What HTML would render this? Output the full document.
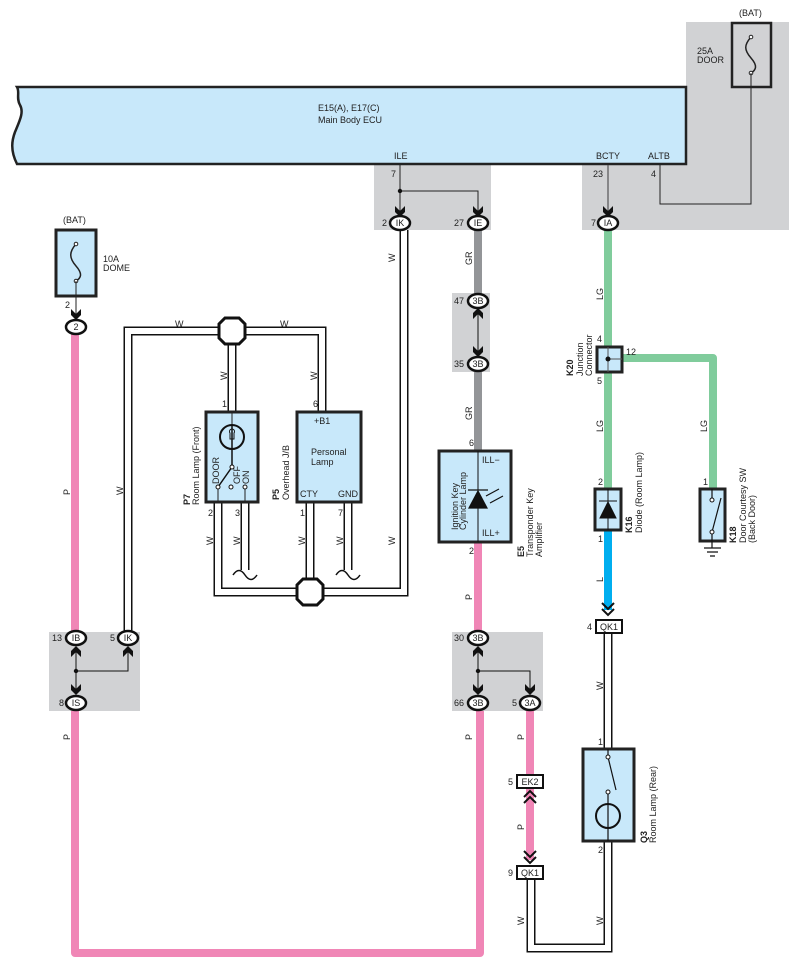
<!DOCTYPE html>
<html><head><meta charset="utf-8"><style>
html,body{margin:0;padding:0;background:#fff;}
svg{display:block;}
text{font-family:"Liberation Sans",sans-serif;font-size:9px;fill:#222;}
</style></head><body>
<svg width="799" height="971" viewBox="0 0 799 971" xmlns="http://www.w3.org/2000/svg">
<defs>
<g id="fa"><path d="M-5,-9 L0,-4 L5,-9 L5,-3 L0,2 L-5,-3Z" fill="#111"/></g>
<g id="ma"><path d="M-5,9 L0,4 L5,9 L5,3 L0,-2 L-5,3Z" fill="#111"/></g>
<g id="oct"><polygon points="-7,-13 7,-13 13,-7 13,7 7,13 -7,13 -13,7 -13,-7" fill="#fff" stroke="#111" stroke-width="3"/></g>
</defs>
<g fill="#d1d2d4">
<rect x="686" y="22" width="103" height="208"/>
<rect x="582" y="165" width="207" height="65"/>
<rect x="374" y="165" width="117" height="65"/>
<rect x="452" y="293" width="38" height="79"/>
<rect x="49" y="632" width="91" height="79"/>
<rect x="452" y="632" width="91" height="79"/>
</g>
<path d="M17,87 L686,87 L686,164 L17,164 C10,150 12,140 15,132 C20,120 24,112 20,105 C16,98 20,92 17,87Z" fill="#c8e8fa" stroke="#222" stroke-width="2.5"/>
<text x="318" y="111" font-size="9.5">E15(A), E17(C)</text>
<text x="318" y="123" font-size="9.5">Main Body ECU</text>
<text x="394" y="159">ILE</text><text x="596" y="159">BCTY</text><text x="648" y="159">ALTB</text>
<rect x="732" y="23" width="39" height="64" fill="none" stroke="#222" stroke-width="2.5"/>
<text x="739" y="16">(BAT)</text><text x="697" y="54">25A</text><text x="697" y="63">DOOR</text>
<path d="M751,37 C744,45 744,50 751,58 C758,66 756,70 751,73" fill="none" stroke="#222" stroke-width="1.5"/>
<circle cx="751" cy="37" r="1.8" fill="#fff" stroke="#222"/><circle cx="751" cy="73" r="1.8" fill="#fff" stroke="#222"/>
<path d="M751,73 V204 H660 V165" fill="none" stroke="#222" stroke-width="1"/>
<text x="651" y="177">4</text>
<path d="M400,165 V215 M400,191 H478 V215" fill="none" stroke="#222" stroke-width="1"/>
<circle cx="400" cy="191" r="2.2" fill="#111"/>
<text x="391" y="177">7</text>
<path d="M608,165 V215" stroke="#555" stroke-width="1.2"/>
<text x="593" y="177">23</text>
<g fill="none" stroke-linejoin="round">
<path d="M478,230 V294 M478,372 V450" stroke="#939598" stroke-width="8"/>
<path d="M75,334 V632 M75,711 V953 H480 V711" stroke="#f086b6" stroke-width="8"/>
<path d="M478,542 V632" stroke="#f086b6" stroke-width="8"/>
<path d="M530,711 V860" stroke="#f086b6" stroke-width="8"/>
<path d="M608,230 V489" stroke="#80cc9c" stroke-width="8"/>
<path d="M622,358 H713 V489" stroke="#80cc9c" stroke-width="8"/>
<path d="M608,530 V610" stroke="#00aeef" stroke-width="8"/>
</g>
<g fill="none" stroke-linejoin="miter">
<g stroke="#111" stroke-width="9">
<path d="M128,632 V331 H322 V411"/><path d="M232,331 V411"/>
<path d="M218,502 V592 H404 V230"/><path d="M310,502 V592"/>
<path d="M245,502 V570"/><path d="M348,502 V570"/>
<path d="M608,633 V749"/><path d="M608,841 V948 H531 V880"/>
</g>
<g stroke="#fff" stroke-width="6">
<path d="M128,632 V331 H322 V411"/><path d="M232,331 V411"/>
<path d="M218,502 V592 H404 V230"/><path d="M310,502 V592"/>
<path d="M245,502 V570"/><path d="M348,502 V570"/>
<path d="M608,633 V749"/><path d="M608,841 V948 H531 V880"/>
</g>
</g>
<path d="M233,575 c4,-6 8,-6 12,0 s8,6 12,0 M336,575 c4,-6 8,-6 12,0 s8,6 12,0" fill="none" stroke="#111" stroke-width="1.5"/>
<use href="#oct" x="232" y="331"/><use href="#oct" x="310" y="592"/>
<rect x="56" y="230" width="40" height="66" fill="#c8e8fa" stroke="#222" stroke-width="3"/>
<text x="63" y="223">(BAT)</text><text x="103" y="262">10A</text><text x="103" y="271">DOME</text>
<path d="M76,244 C69,252 69,258 76,266 C83,274 81,278 76,281" fill="none" stroke="#222" stroke-width="1.5"/>
<circle cx="76" cy="244" r="1.8" fill="#fff" stroke="#222"/><circle cx="76" cy="281" r="1.8" fill="#fff" stroke="#222"/>
<path d="M76,281 V318" stroke="#222"/><text x="65" y="308">2</text>
<use href="#fa" x="76" y="318"/>
<use href="#fa" x="400" y="215"/><use href="#fa" x="478" y="215"/><use href="#fa" x="608" y="215"/>
<use href="#ma" x="478" y="310"/><use href="#fa" x="478" y="355"/>
<use href="#ma" x="76" y="648"/><use href="#ma" x="128" y="648"/><use href="#fa" x="76" y="693"/>
<use href="#ma" x="478" y="648"/><use href="#fa" x="478" y="693"/><use href="#fa" x="530" y="693"/>
<path d="M76,648 V693 M76,671 H128 V648 M478,310 V355 M478,648 V693 M478,671 H530 V693" fill="none" stroke="#111" stroke-width="1"/>
<circle cx="76" cy="671" r="2.2" fill="#111"/><circle cx="478" cy="671" r="2.2" fill="#111"/>
<g fill="#fff" stroke="#111" stroke-width="2.5">
<ellipse cx="76" cy="327" rx="10" ry="7"/>
<ellipse cx="400" cy="223" rx="10" ry="7"/><ellipse cx="478" cy="223" rx="10" ry="7"/><ellipse cx="608" cy="223" rx="10" ry="7"/>
<ellipse cx="478" cy="301" rx="10" ry="7"/><ellipse cx="478" cy="364" rx="10" ry="7"/>
<ellipse cx="76" cy="638" rx="10" ry="7"/><ellipse cx="128" cy="638" rx="10" ry="7"/><ellipse cx="76" cy="703" rx="10" ry="7"/>
<ellipse cx="478" cy="638" rx="10" ry="7"/><ellipse cx="478" cy="703" rx="10" ry="7"/><ellipse cx="530" cy="703" rx="10" ry="7"/>
</g>
<g text-anchor="middle">
<text x="76" y="330">2</text><text x="400" y="226">IK</text><text x="478" y="226">IE</text><text x="608" y="226">IA</text>
<text x="478" y="304">3B</text><text x="478" y="367">3B</text>
<text x="76" y="641">IB</text><text x="128" y="641">IK</text><text x="76" y="706">IS</text>
<text x="478" y="641">3B</text><text x="478" y="706">3B</text><text x="530" y="706">3A</text>
</g>
<text x="382" y="226">2</text><text x="454" y="226">27</text><text x="591" y="226">7</text>
<text x="454" y="304">47</text><text x="454" y="367">35</text>
<text x="52" y="641">13</text><text x="110" y="641">5</text><text x="59" y="706">8</text>
<text x="454" y="641">30</text><text x="454" y="706">66</text><text x="512" y="706">5</text>
<rect x="206" y="412" width="52" height="90" fill="#c8e8fa" stroke="#222" stroke-width="3"/>
<path d="M232,412 V425 M218,487 V502 M245,487 V502" stroke="#222"/>
<circle cx="232" cy="437" r="12" fill="none" stroke="#111" stroke-width="2"/>
<path d="M232,425 V467 M218,487 L232,467" stroke="#111" stroke-width="1.5" fill="none"/>
<path d="M230,433 a2.5,2.5 0 1 1 4,0 v6 h-4z" fill="none" stroke="#111" stroke-width="1"/>
<circle cx="218" cy="487" r="2" fill="#fff" stroke="#111"/><circle cx="231" cy="487" r="2" fill="#fff" stroke="#111"/><circle cx="245" cy="487" r="2" fill="#fff" stroke="#111"/><circle cx="232" cy="467" r="2" fill="#fff" stroke="#111"/>
<text transform="translate(219,484) rotate(-90)">DOOR</text><text transform="translate(240,484) rotate(-90)">OFF</text><text transform="translate(249,484) rotate(-90)">ON</text>
<text x="222" y="407">1</text><text x="208" y="516">2</text><text x="235" y="516">3</text>
<text transform="translate(190,505) rotate(-90)" font-weight="bold">P7</text><text transform="translate(199,505) rotate(-90)">Room Lamp (Front)</text>
<rect x="297" y="412" width="64" height="90" fill="#c8e8fa" stroke="#222" stroke-width="3"/>
<text x="314" y="424">+B1</text><text x="311" y="455">Personal</text><text x="311" y="465">Lamp</text>
<text x="300" y="497">CTY</text><text x="338" y="497">GND</text>
<text x="313" y="407">6</text><text x="300" y="516">1</text><text x="338" y="516">7</text>
<text transform="translate(279,500) rotate(-90)" font-weight="bold">P5</text><text transform="translate(289,500) rotate(-90)">Overhead J/B</text>
<rect x="439" y="451" width="72" height="91" fill="#c8e8fa" stroke="#222" stroke-width="3"/>
<path d="M478,451 V542" stroke="#111"/>
<path d="M469,508 L487,508 L478,491Z M468,490 H488" fill="#111" stroke="#111" stroke-width="1.2"/>
<path d="M486,496 L499,489 M490,503 L503,496" stroke="#111" stroke-width="1.2"/>
<text x="482" y="463">ILL−</text><text x="482" y="536">ILL+</text>
<text transform="translate(458,530) rotate(-90)" fill="#333">Ignition Key</text><text transform="translate(466,530) rotate(-90)" fill="#333">Cylinder Lamp</text>
<text transform="translate(524,557) rotate(-90)" font-weight="bold">E5</text><text transform="translate(533,557) rotate(-90)">Transponder Key</text><text transform="translate(542,557) rotate(-90)">Amplifier</text>
<text x="469" y="446">6</text><text x="469" y="554">2</text>
<rect x="597" y="347" width="25" height="25" fill="#c8e8fa" stroke="#222" stroke-width="3"/>
<path d="M608,347 V372 M608,359 H622" stroke="#555"/><circle cx="608" cy="359" r="2.5" fill="#111"/>
<text x="597" y="342">4</text><text x="597" y="384">5</text><text x="626" y="355">12</text>
<text transform="translate(573,376) rotate(-90)" font-weight="bold">K20</text><text transform="translate(583,376) rotate(-90)">Junction</text><text transform="translate(592,376) rotate(-90)">Connector</text>
<rect x="595" y="489" width="26" height="41" fill="#c8e8fa" stroke="#222" stroke-width="3"/>
<path d="M608,489 V530" stroke="#111"/><path d="M600,518 H616 L608,502Z M599,501 H617" fill="#111" stroke="#111"/>
<text x="598" y="485">2</text><text x="598" y="542">1</text>
<text transform="translate(632,533) rotate(-90)" font-weight="bold">K16</text><text transform="translate(642,533) rotate(-90)">Diode (Room Lamp)</text>
<rect x="700" y="489" width="25" height="52" fill="#c8e8fa" stroke="#222" stroke-width="3"/>
<path d="M712,499 V489 M712,532 V548 M712,532 L721,498 M704,548 H721 M707,552 H718 M710,556 H715" fill="none" stroke="#111" stroke-width="1.2"/>
<circle cx="712" cy="500" r="2" fill="#fff" stroke="#111"/><circle cx="712" cy="532" r="2" fill="#fff" stroke="#111"/>
<text x="703" y="485">1</text>
<text transform="translate(736,543) rotate(-90)" font-weight="bold">K18</text><text transform="translate(746,543) rotate(-90)">Door Courtesy SW</text><text transform="translate(755,543) rotate(-90)">(Back Door)</text>
<path d="M602,603 L608,609 L614,603 M602,609 L608,615 L614,609" fill="none" stroke="#111" stroke-width="2"/>
<rect x="596" y="620" width="26" height="13" fill="#fff" stroke="#111" stroke-width="2"/>
<text x="609" y="630" text-anchor="middle">QK1</text><text x="587" y="630">4</text>
<rect x="583" y="749" width="51" height="92" fill="#c8e8fa" stroke="#222" stroke-width="3"/>
<path d="M608,749 V757 M608,827 V841 M608,757 L616,790 M608,792 V803 M608,803 V827" fill="none" stroke="#111" stroke-width="1.2"/>
<circle cx="608" cy="816" r="12" fill="none" stroke="#111" stroke-width="2"/>
<circle cx="608" cy="757" r="2" fill="#fff" stroke="#111"/><circle cx="608" cy="792" r="2" fill="#fff" stroke="#111"/>
<text x="598" y="745">1</text><text x="598" y="853">2</text>
<text transform="translate(647,843) rotate(-90)" font-weight="bold">Q3</text><text transform="translate(656,843) rotate(-90)">Room Lamp (Rear)</text>
<rect x="517" y="775" width="26" height="13" fill="#fff" stroke="#111" stroke-width="2"/>
<text x="530" y="785" text-anchor="middle">EK2</text><text x="508" y="785">5</text>
<path d="M524,797 L530,791 L536,797 M524,803 L530,797 L536,803" fill="none" stroke="#111" stroke-width="2"/>
<path d="M524,851 L530,857 L536,851 M524,857 L530,863 L536,857" fill="none" stroke="#111" stroke-width="2"/>
<rect x="517" y="866" width="26" height="13" fill="#fff" stroke="#111" stroke-width="2"/>
<text x="530" y="876" text-anchor="middle">QK1</text><text x="508" y="876">9</text>
<g>
<text transform="translate(70,495) rotate(-90)">P</text>
<text transform="translate(123,495) rotate(-90)">W</text>
<text transform="translate(227,380) rotate(-90)">W</text>
<text transform="translate(317,380) rotate(-90)">W</text>
<text x="175" y="327">W</text><text x="280" y="327">W</text>
<text transform="translate(213,545) rotate(-90)">W</text><text transform="translate(240,545) rotate(-90)">W</text>
<text transform="translate(305,545) rotate(-90)">W</text><text transform="translate(343,545) rotate(-90)">W</text>
<text transform="translate(395,545) rotate(-90)">W</text>
<text transform="translate(395,262) rotate(-90)">W</text>
<text transform="translate(472,265) rotate(-90)">GR</text>
<text transform="translate(472,420) rotate(-90)">GR</text>
<text transform="translate(472,600) rotate(-90)">P</text>
<text transform="translate(70,740) rotate(-90)">P</text>
<text transform="translate(472,740) rotate(-90)">P</text>
<text transform="translate(524,740) rotate(-90)">P</text>
<text transform="translate(524,830) rotate(-90)">P</text>
<text transform="translate(524,925) rotate(-90)">W</text>
<text transform="translate(603,925) rotate(-90)">W</text>
<text transform="translate(603,690) rotate(-90)">W</text>
<text transform="translate(603,300) rotate(-90)">LG</text>
<text transform="translate(603,432) rotate(-90)">LG</text>
<text transform="translate(707,432) rotate(-90)">LG</text>
<text transform="translate(603,582) rotate(-90)">L</text>
</g>
</svg>
</body></html>
